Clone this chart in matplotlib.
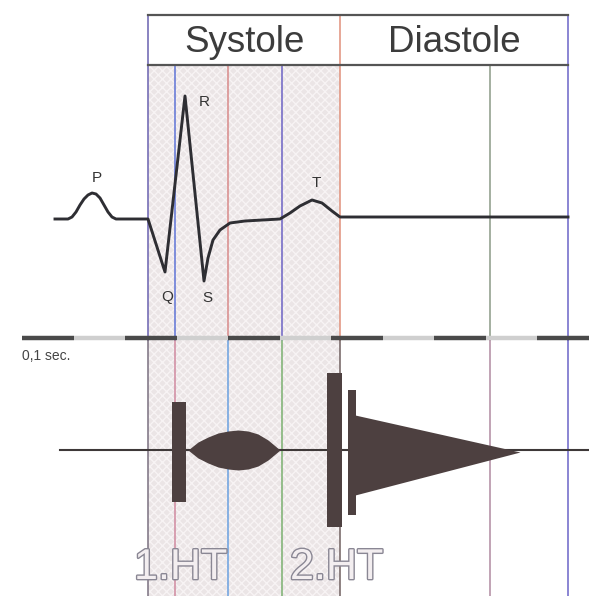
import matplotlib
matplotlib.use('Agg')
import matplotlib.pyplot as plt
import matplotlib.patheffects as pe
import numpy as np

# layout works in picture units (x right, y down)
header_labels = ['Systole', 'Diastole']
header_centers = [245, 454]
phase_edges = [148, 340, 568]

# coloured time markers (x, colour upper, colour lower)
marker_x = [148, 175, 228, 282, 340, 490, 568]
marker_top = [15, 65, 65, 65, 15, 65, 15]
marker_col = ['#6a62b0', '#5f74d6', '#d88a8a', '#6c62c4', '#e0907a', '#8c9a86', '#6b64c8']
marker_col_low = ['#7a7080', '#d08aa0', '#6aa0e0', '#7ab070', '#706060', '#b08aa0', '#6b64c8']

# ECG trace
ecg_x = [55, 68, 72, 76, 80, 84, 88, 92, 96, 100, 104, 108, 112, 116, 120, 148,
         165, 185, 204, 208, 213, 220, 230, 245, 280, 290, 300, 312, 322, 332, 340, 568]
ecg_y = [219, 219, 217, 212, 205, 199, 195, 193, 194, 198, 205, 212, 217, 219, 219, 219,
         272, 96, 281, 258, 240, 230, 223, 221, 219, 213, 206, 200, 203, 211, 217, 217]
wave_labels = ['P', 'Q', 'R', 'S', 'T']
wave_pos = [(97, 178), (167, 297), (204, 102), (207, 298), (316, 183)]

# 0,1 s time bar
bar_edges = [22, 73.5, 125, 176.5, 228, 279.5, 331, 382.5, 434, 485.5, 537, 589]
bar_y = 338

# phonocardiogram
phono_y = 450
s_rect_left = [172, 327, 348]
s_rect_width = [14, 15, 8]
s_rect_top = [402, 373, 390]
s_rect_bottom = [502, 527, 515]
murmur_x = [188, 198, 208, 218, 228, 238, 248, 258, 268, 280]
murmur_h = [0, 8, 13, 17, 19, 20, 19, 16, 10, 0]
decr_x = [355, 520]
decr_top = [415, 452]
decr_bot = [495, 452]
sound_labels = ['1.HT', '2.HT']
sound_pos = [(134, 568), (290, 568)]

fig = plt.figure(figsize=(5.89, 5.96), dpi=100)
ax = fig.add_axes([0, 0, 1, 1])
ax.set_xlim(0, 589)
ax.set_ylim(596, 0)
ax.axis('off')

# shaded systole
ax.fill_between([phase_edges[0], phase_edges[1]], 65, 596, facecolor='#ebe5e6',
                edgecolor='#f7f3f4', hatch='xxxx', linewidth=0, zorder=0)

# markers
for x, top, c1, c2 in zip(marker_x, marker_top, marker_col, marker_col_low):
    ax.plot([x, x], [top, 340], color=c1, lw=1.1, zorder=1)
    ax.plot([x, x], [340, 596], color=c2, lw=1.1, zorder=1)

# header table
ax.plot([phase_edges[0], phase_edges[2]], [15, 15], color='#555555', lw=1.6)
ax.plot([phase_edges[0], phase_edges[2]], [65, 65], color='#555555', lw=1.6)
for lab, cx in zip(header_labels, header_centers):
    ax.text(cx, 42, lab, ha='center', va='center', fontsize=26.5,
            family=['Liberation Sans', 'DejaVu Sans'], color='#3c3c3c')

# ECG
ax.plot(ecg_x, ecg_y, color='#2e2e33', lw=2.1, solid_joinstyle='round', zorder=3)
for lab, (x, y) in zip(wave_labels, wave_pos):
    ax.text(x, y, lab, ha='center', va='center', fontsize=11,
            family=['Liberation Sans', 'DejaVu Sans'], color='#333333', zorder=4)

# time bar
for i in range(len(bar_edges) - 1):
    col = '#4a4a4a' if i % 2 == 0 else '#cfcfcf'
    ax.plot([bar_edges[i], bar_edges[i + 1]], [bar_y, bar_y], color=col, lw=3.2,
            solid_capstyle='butt', zorder=3)
ax.text(22, 356, '0,1 sec.', ha='left', va='center', fontsize=10,
        family=['Liberation Sans', 'DejaVu Sans'], color='#444444')

# phonocardiogram
dark = '#4d4040'
ax.plot([60, 589], [phono_y, phono_y], color='#3e3838', lw=1.5, zorder=2)
ax.bar(s_rect_left, np.array(s_rect_bottom) - np.array(s_rect_top), width=s_rect_width,
       bottom=s_rect_top, align='edge', color=dark, zorder=3)
mh = np.array(murmur_h)
ax.fill_between(murmur_x, phono_y - mh, phono_y + mh, color=dark, lw=0, zorder=3)
ax.fill_between(decr_x, decr_top, decr_bot, color=dark, lw=0, zorder=3)

# heart sound labels (hollow letters)
for lab, (x, y) in zip(sound_labels, sound_pos):
    ax.text(x, y, lab, ha='left', va='center', fontsize=31,
            family=['Liberation Sans Narrow', 'Liberation Sans', 'DejaVu Sans'],
            color='#f3eef0', zorder=5,
            path_effects=[pe.withStroke(linewidth=2.0, foreground='#8a8794')])

fig.savefig('out.png', dpi=100)
